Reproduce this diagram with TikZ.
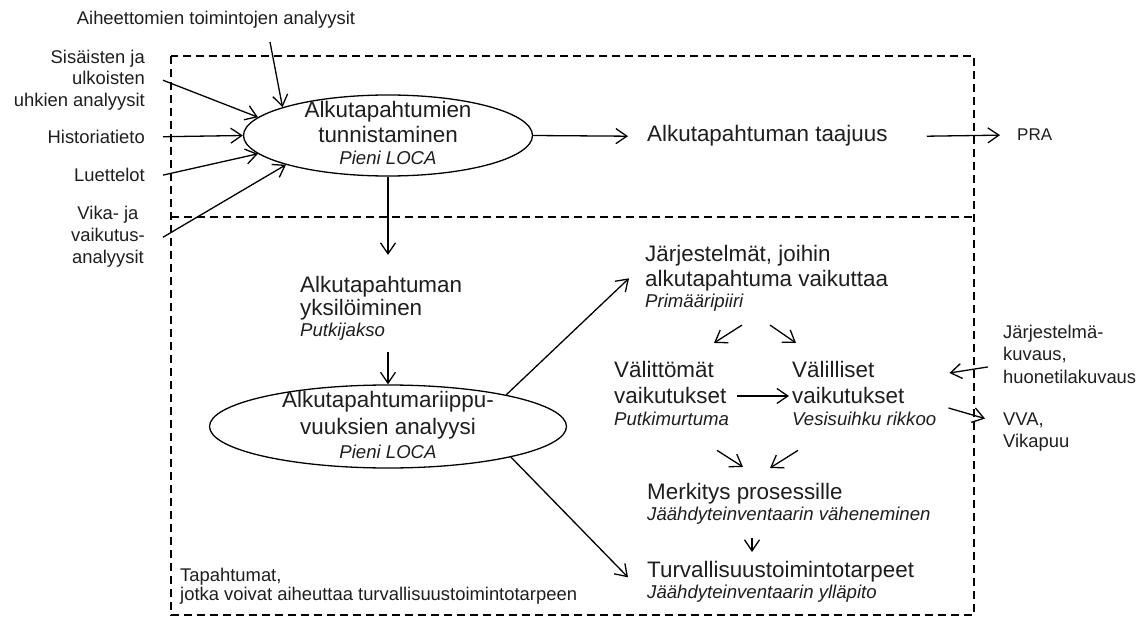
\documentclass[tikz,border=0pt]{standalone}
\usepackage{fontspec}
\setmainfont{Liberation Sans}
\usetikzlibrary{shapes.geometric,arrows.meta,calc}
\definecolor{ink}{RGB}{30,30,30}
\newcommand\txtbig{\fontsize{22.4pt}{25pt}\selectfont}
\newcommand\txtsmall{\fontsize{18.6pt}{21pt}\selectfont\itshape}
\newcommand\txtlab{\fontsize{18.4pt}{22pt}\selectfont}
\tikzset{
  labtext/.style={inner sep=0pt, text=ink, font=\txtlab},
  bigtext/.style={inner sep=0pt, text=ink, font=\txtbig, align=left},
  oval/.style={draw, ellipse, inner sep=0pt, line width=1.3pt},
  conn/.style={line width=1.3pt, -{Straight Barb[length=11pt,width=15pt]}},
  boxline/.style={line width=1.3pt, dash pattern=on 8pt off 5pt},
}
\begin{document}
\begin{tikzpicture}[x=1pt,y=-1pt]
\useasboundingbox[fill=white] (0,0) rectangle (1147,617);

% dashed frame with its divider
\draw[boxline] (171,56) rectangle (974,615);
\draw[boxline] (171,217) -- (974,217);

% input sources (multi-line nodes are placed by the baseline of their last line)
\node[labtext, anchor=base] (aih) at (216,25) {Aiheettomien toimintojen analyysit};
\node[labtext, anchor=base east, align=right, font=\fontsize{18.4pt}{21.7pt}\selectfont] (sis) at (145,106.7)
  {Sisäisten ja\\ulkoisten\hspace*{5pt}\\uhkien analyysit};
\node[labtext, anchor=base east] (his) at (145,143.3) {Historiatieto};
\node[labtext, anchor=base east] (lue) at (145,181.7) {Luettelot};
\node[labtext, anchor=base east, align=center] (vika) at (145,264) {Vika- ja\\vaikutus-\\analyysit};

% identification of initiating events
\node[oval, minimum width=289pt, minimum height=81pt] (e1) at (388,135.5) {};
\node[bigtext, align=center, anchor=base] (e1t) at (388,165)
  {Alkutapahtumien\\tunnistaminen\\[-3pt]{\txtsmall Pieni LOCA}};

\node[bigtext, anchor=base west] (taaj) at (647,142) {Alkutapahtuman taajuus};
\node[labtext, anchor=base west, font=\fontsize{17pt}{20pt}\selectfont] (pra) at (1017,141) {PRA};

\node[bigtext, anchor=base west, font=\fontsize{22.4pt}{23pt}\selectfont] (yks) at (300,336)
  {Alkutapahtuman\\yksilöiminen\\[-2pt]{\txtsmall Putkijakso}};

% dependency analysis
\node[oval, minimum width=357pt, minimum height=83pt] (e2) at (388,426.5) {};
\node[bigtext, align=center, anchor=base, font=\fontsize{22.4pt}{27pt}\selectfont] (e2t) at (388,458)
  {Alkutapahtumariippu-\\vuuksien analyysi\\[-3pt]{\txtsmall Pieni LOCA}};

\node[bigtext, anchor=base west, font=\fontsize{22.4pt}{26pt}\selectfont] (jar) at (645,308)
  {Järjestelmät, joihin\\alkutapahtuma vaikuttaa\\[-5pt]{\txtsmall Primääripiiri}};
\node[bigtext, anchor=base west, font=\fontsize{22.4pt}{26pt}\selectfont] (vm) at (614,425)
  {Välittömät\\vaikutukset\\[-4pt]{\txtsmall Putkimurtuma}};
\node[bigtext, anchor=base west, font=\fontsize{22.4pt}{26pt}\selectfont] (vl) at (792,425)
  {Välilliset\\vaikutukset\\[-4pt]{\txtsmall Vesisuihku rikkoo}};
\node[labtext, anchor=base west, align=left, font=\fontsize{18.4pt}{22.5pt}\selectfont] (jk) at (1003,383)
  {Järjestelmä-\\kuvaus,\\huonetilakuvaus};
\node[labtext, anchor=base west, align=left] (vva) at (1003,447) {VVA,\\Vikapuu};
\node[bigtext, anchor=base west] (merk) at (647,520)
  {Merkitys prosessille\\[-4pt]{\txtsmall Jäähdyteinventaarin väheneminen}};
\node[bigtext, anchor=base west] (turv) at (647,598)
  {Turvallisuustoimintotarpeet\\[-4pt]{\txtsmall Jäähdyteinventaarin ylläpito}};
\node[labtext, anchor=base west, align=left, font=\fontsize{18.4pt}{19.5pt}\selectfont] (tap) at (180,600.5)
  {Tapahtumat,\\jotka voivat aiheuttaa turvallisuustoimintotarpeen};

% connectors
\draw[conn] ([shift={(54pt,-13pt)}]aih.south) -- (e1.165);
\draw[conn] ([xshift=18pt]sis.east) -- (e1.172);
\draw[conn] ([xshift=18pt]his.east) -- (e1.west);
\draw[conn] ([xshift=18pt]lue.east) -- (e1.188);
\draw[conn] ([xshift=18pt]vika.east) -- (e1.196);
\draw[conn] (e1.east) -- ([xshift=-19pt]taaj.west);
\draw[conn] ([xshift=39pt]taaj.east) -- ([xshift=-17pt]pra.west);
\draw[conn] (e1.south) -- ($(e1.south |- yks.north)+(0pt,20.6pt)$);
\draw[conn] ($(e1.south |- yks.south)+(0pt,-12pt)$) -- (e2.north);
\draw[conn] (e2.15) -- ([xshift=-16pt]jar.west);
\draw[conn] (e2.-14) -- ([shift={(-19pt,4pt)}]turv.west);
\draw[conn] ([shift={(97pt,-13pt)}]jar.south west) -- ([shift={(100pt,17.6pt)}]vm.north west);
\draw[conn] ([shift={(125pt,-13pt)}]jar.south west) -- ([shift={(4pt,17.6pt)}]vl.north west);
\draw[conn] ([shift={(8pt,-3pt)}]vm.east) -- ([shift={(-3pt,-3pt)}]vl.west);
\draw[conn] ([shift={(-15pt,-13pt)}]jk.west) -- ([shift={(13pt,20pt)}]vl.east);
\draw[conn] ([shift={(12pt,-15pt)}]vl.east) -- ([shift={(-18pt,13pt)}]vva.west);
\draw[conn] ([shift={(103pt,-25pt)}]vm.south west) -- ([shift={(96pt,15.6pt)}]merk.north west);
\draw[conn] ([shift={(6pt,-25pt)}]vl.south west) -- ([shift={(123pt,14.6pt)}]merk.north west);
\draw[conn] ([shift={(105pt,-14pt)}]merk.south west) -- ([shift={(105pt,8.6pt)}]turv.north west);
\end{tikzpicture}
\end{document}
